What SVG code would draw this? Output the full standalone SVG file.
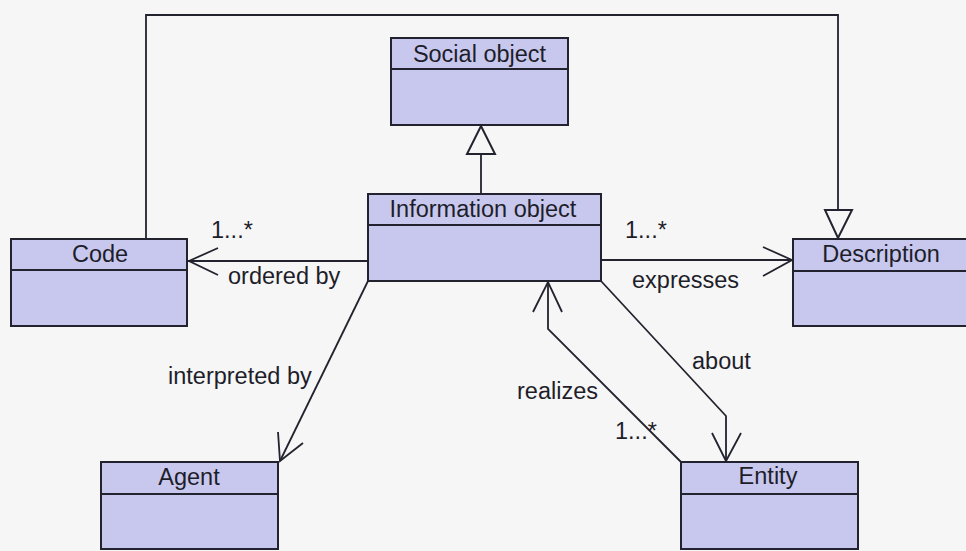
<svg xmlns="http://www.w3.org/2000/svg" width="966" height="551" viewBox="0 0 966 551">
  <style>
    .box { fill: #c8c8ee; stroke: #23232f; stroke-width: 2; }
    .div { stroke: #23232f; stroke-width: 2; }
    .name { font-family: "Liberation Sans", Arial, sans-serif; font-size: 23.5px; fill: #1e1e2a; text-anchor: middle; }
    .lbl { font-family: "Liberation Sans", Arial, sans-serif; font-size: 23.5px; fill: #1e1e2a; }
    .ln { fill: none; stroke: #23232f; stroke-width: 1.8; }
    .tri { fill: #f6f6f6; stroke: #23232f; stroke-width: 2; }
  </style>
  <rect width="966" height="551" fill="#f6f6f6"/>

  <!-- class boxes -->
  <g id="social-object">
    <rect class="box" x="391" y="38" width="177" height="87"/>
    <line class="div" x1="391" y1="69" x2="568" y2="69"/>
    <text class="name" x="479.5" y="62">Social object</text>
  </g>
  <g id="information-object">
    <rect class="box" x="368" y="194" width="233" height="87"/>
    <line class="div" x1="368" y1="225" x2="601" y2="225"/>
    <text class="name" x="483" y="217">Information object</text>
  </g>
  <g id="code">
    <rect class="box" x="11" y="239" width="176" height="87"/>
    <line class="div" x1="11" y1="270" x2="187" y2="270"/>
    <text class="name" x="100" y="262">Code</text>
  </g>
  <g id="description">
    <rect class="box" x="793" y="239" width="176" height="87"/>
    <line class="div" x1="793" y1="271" x2="969" y2="271"/>
    <text class="name" x="881" y="262">Description</text>
  </g>
  <g id="agent">
    <rect class="box" x="101" y="462" width="177" height="87"/>
    <line class="div" x1="101" y1="494" x2="278" y2="494"/>
    <text class="name" x="189" y="485">Agent</text>
  </g>
  <g id="entity">
    <rect class="box" x="681" y="462" width="177" height="87"/>
    <line class="div" x1="681" y1="494" x2="858" y2="494"/>
    <text class="name" x="768" y="484">Entity</text>
  </g>

  <!-- connectors -->
  <g id="connectors">
    <!-- Code generalizes to Description over the top -->
    <polyline class="ln" points="146,239 146,15 838,15 838,210"/>
    <polygon class="tri" points="825,210 852,210 838,238"/>

    <!-- Information object generalizes to Social object -->
    <line class="ln" x1="481" y1="194" x2="481" y2="154"/>
    <polygon class="tri" points="467,154 495,154 481,126"/>

    <!-- ordered by -->
    <line class="ln" x1="368" y1="261" x2="188" y2="261"/>
    <polyline class="ln" points="218,248 189,261 218,275"/>

    <!-- expresses -->
    <line class="ln" x1="601" y1="260" x2="792" y2="260"/>
    <polyline class="ln" points="763,247 792,260 763,276"/>

    <!-- interpreted by -->
    <line class="ln" x1="368" y1="281" x2="280" y2="461"/>
    <polyline class="ln" points="278,432 280,461 303,443"/>

    <!-- about -->
    <polyline class="ln" points="601,281 726,416 726,461"/>
    <polyline class="ln" points="712,433 726,461 741,433"/>

    <!-- realizes -->
    <polyline class="ln" points="681,462 548,329 548,282"/>
    <polyline class="ln" points="533,312 548,282 562,312"/>

    <!-- association labels -->
    <text class="lbl" x="211" y="238">1...*</text>
    <text class="lbl" x="228" y="284">ordered by</text>
    <text class="lbl" x="625" y="238">1...*</text>
    <text class="lbl" x="632" y="288">expresses</text>
    <text class="lbl" x="168" y="384">interpreted by</text>
    <text class="lbl" x="517" y="399">realizes</text>
    <text class="lbl" x="692" y="369">about</text>
    <text class="lbl" x="615" y="439">1...*</text>
  </g>
</svg>
